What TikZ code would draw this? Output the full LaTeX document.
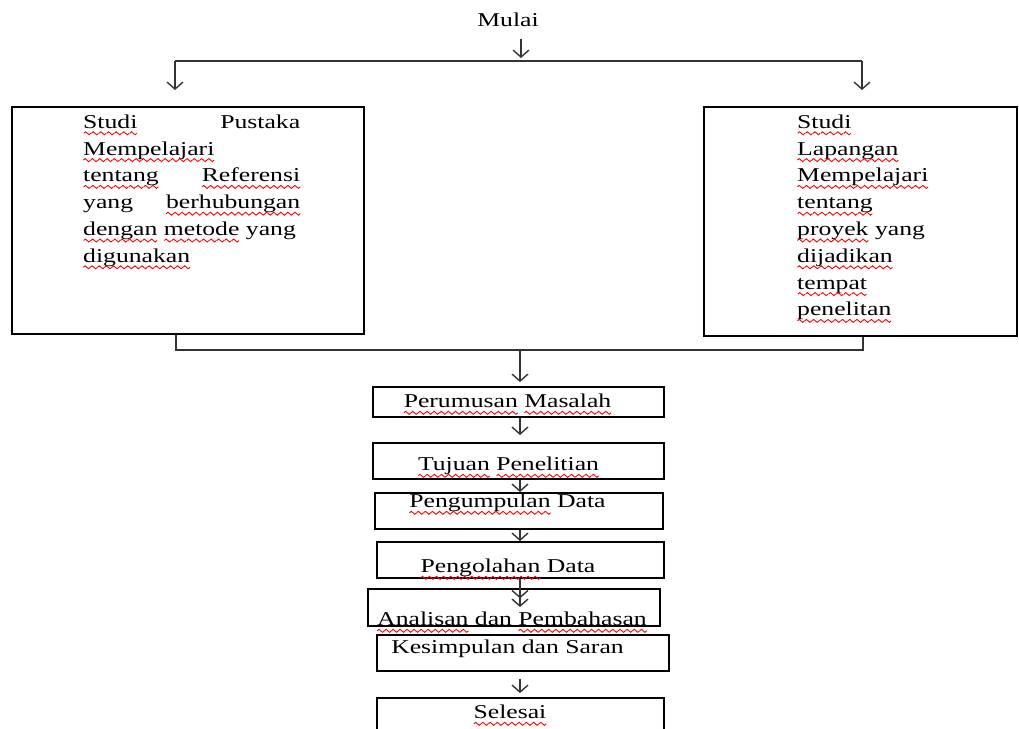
\documentclass[tikz,border=0pt]{standalone}
\usepackage{fontspec}
\setmainfont{Liberation Serif}[FakeStretch=1.31]
\usetikzlibrary{arrows.meta}

% red wavy underline (spell-check marks)
\newsavebox\sqbox
\newcommand\wavebit{\tikz[baseline=0pt]{\useasboundingbox (0pt,-1.8pt) rectangle (7pt,1.8pt);
  \draw[red, line width=0.9pt] (0pt,0pt) sin (1.75pt,1.5pt) cos (3.5pt,0pt) sin (5.25pt,-1.5pt) cos (7pt,0pt);}}
\newcommand\sq[1]{\leavevmode\sbox\sqbox{#1}\rlap{\usebox\sqbox}%
  \raisebox{-5pt}[0pt][0pt]{\hbox to \wd\sqbox{\xleaders\hbox{\wavebit}\hfill}}}
\newcommand\jline[2]{\leavevmode\hbox to 217pt{#1\hfill #2}}

\begin{document}
\begin{tikzpicture}[x=1pt, y=-1pt,
  every node/.style={font=\fontsize{19.6}{26.8}\selectfont},
  box/.style={draw, line width=1.6pt, inner xsep=0pt, inner ysep=0pt},
  wire/.style={draw=black!80, line width=1.4pt},
  arr/.style={wire, -{Straight Barb[length=7pt, width=16pt]}},
  arrtwo/.style={wire, -{Straight Barb[length=7pt, width=16pt] Straight Barb[length=7pt, width=16pt]}}]
  \useasboundingbox (0,0) rectangle (1019,728);

  % Start and split
  \node[anchor=base] (mulai) at (508,27) {Mulai};
  \coordinate (jtop) at (521,61);
  \coordinate (jl) at (175,61);
  \coordinate (jr) at (862,61);
  \draw[arr, shorten <=8pt, shorten >=3pt] (mulai.south -| jtop) -- (jtop);
  \draw[wire] (jl) -- (jr);

  % Two studies
  \node[box, minimum width=352pt, minimum height=227pt, anchor=north west] (pustaka) at (11,106) {};
  \node[box, minimum width=313pt, minimum height=229pt, anchor=north west] (lapangan) at (703,106) {};
  \draw[arr, shorten >=16pt] (jl) -- (pustaka.north -| jl);
  \draw[arr, shorten >=16pt] (jr) -- (lapangan.north -| jr);

  \node[anchor=north west, inner sep=0pt, text width=225pt, align=left] (pustaka-t) at (83,114.5)
    {\jline{\sq{Studi}}{Pustaka}\\
     \sq{Mempelajari}\\
     \jline{\sq{tentang}}{\sq{Referensi}}\\
     \jline{yang}{\sq{berhubungan}}\\
     \sq{dengan} \sq{metode} yang\\
     \sq{digunakan}};
  \node[anchor=north west, inner sep=0pt, text width=200pt, align=left] (lapangan-t) at (797,114.5)
    {\sq{Studi}\\
     \sq{Lapangan}\\
     \sq{Mempelajari}\\
     \sq{tentang}\\
     \sq{proyek} yang\\
     \sq{dijadikan}\\
     \sq{tempat}\\
     \sq{penelitan}};

  % Join
  \coordinate (bl) at (176,350);
  \coordinate (br) at (863,350);
  \coordinate (bm) at (520,350);
  \draw[wire] (pustaka.south -| bl) -- (bl) -- (br) -- (lapangan.south -| br);

  % Main chain
  \node[box, minimum width=291pt, text height=21pt, text depth=9pt, anchor=north] (rumusan) at (518.5,386)
    {\sq{Perumusan} \sq{Masalah}\hspace*{22pt}};
  \node[box, minimum width=291pt, text height=28pt, text depth=8pt, anchor=north] (tujuan) at (518.5,442)
    {\sq{Tujuan} \sq{Penelitian}\hspace*{20pt}};
  \node[box, minimum width=288pt, text height=15pt, text depth=21pt, anchor=north] (kumpul) at (519,492)
    {\sq{Pengumpulan} Data\hspace*{23pt}};
  \node[box, minimum width=287pt, text height=31pt, text depth=5pt, anchor=north] (olah) at (520.5,541)
    {\sq{Pengolahan} Data\hspace*{25pt}};
  \node[box, minimum width=292pt, text height=37pt, text depth=0pt, anchor=north] (analisa) at (514,588)
    {\sq{Analisan} dan \sq{Pembahasan}\hspace*{4pt}};
  \node[box, minimum width=292pt, text height=19pt, text depth=17pt, anchor=north] (kesimpulan) at (523,634)
    {Kesimpulan dan Saran\hspace*{31pt}};
  \node[box, minimum width=287pt, text height=21pt, text depth=20pt, anchor=north] (selesai) at (520.5,697)
    {\sq{Selesai}\hspace*{21pt}};

  \draw[arr, shorten >=4pt] (bm) -- (rumusan.north -| bm);
  \draw[arr, shorten >=7pt] (rumusan.south -| bm) -- (tujuan.north -| bm);
  \foreach \a/\b in {tujuan/kumpul, kumpul/olah}
    \draw[arr] (\a.south -| bm) -- (\b.north -| bm);
  \coordinate (dbl) at (520,607);
  \draw[arrtwo] (olah.south -| bm) -- (dbl);
  \draw[arr, shorten <=7pt, shorten >=4pt] (kesimpulan.south -| bm) -- (selesai.north -| bm);
\end{tikzpicture}
\end{document}
